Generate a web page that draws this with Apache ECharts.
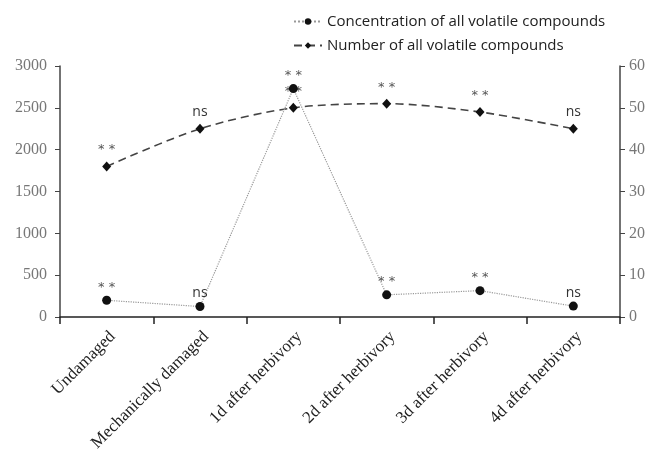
<!DOCTYPE html>
<html>
<head>
<meta charset="utf-8">
<script src="https://cdn.jsdelivr.net/npm/echarts@6/dist/echarts.min.js"></script>
<style>html,body{margin:0;padding:0;background:#fff}#c{width:648px;height:454px}</style>
</head>
<body>
<div id="c"></div>
<script>
const categories = ['Undamaged', 'Mechanically damaged', '1d after herbivory', '2d after herbivory', '3d after herbivory', '4d after herbivory'];
const concentration = [200, 125, 2730, 265, 315, 130];
const numberOfCompounds = [36, 45, 50, 51, 49, 45];
const concentrationSig = ['**', 'ns', '**', '**', '**', 'ns'];
const numberSig = ['**', 'ns', '**', '**', '**', 'ns'];
const leftTicks = [0, 3000, 500];
const rightTicks = [0, 60, 10];

const sigRich = {
  star: { fontFamily: 'DejaVu Sans', fontSize: 13, color: '#555' },
  ns: { fontFamily: 'Open Sans', fontSize: 14, color: '#333' }
};
function sigFormatter(arr) {
  return p => arr[p.dataIndex] === 'ns' ? '{ns|ns}' : '{star|* *}';
}

const chart = echarts.init(document.getElementById('c'));
chart.setOption({
  animation: false,
  grid: { left: 60, right: 27, top: 66, bottom: 137 },
  legend: {
    orient: 'vertical',
    left: 288,
    top: 9,
    itemWidth: 28,
    itemHeight: 8,
    itemGap: 9,
    textStyle: { fontFamily: 'Open Sans', fontSize: 15, color: '#222' },
    data: ['Concentration of all volatile compounds', 'Number of all volatile compounds']
  },
  xAxis: {
    type: 'category',
    data: categories,
    boundaryGap: true,
    axisLine: { lineStyle: { color: '#222', width: 1.5 } },
    axisTick: { show: true, length: 7, alignWithLabel: false, lineStyle: { color: '#222', width: 1.5 } },
    axisLabel: {
      rotate: 45, interval: 0, margin: 11, verticalAlign: 'top',
      fontFamily: 'Liberation Serif', fontSize: 17, color: '#222'
    },
    splitLine: { show: false }
  },
  yAxis: [
    {
      type: 'value', min: leftTicks[0], max: leftTicks[1], interval: leftTicks[2],
      position: 'left',
      axisLine: { show: true, lineStyle: { color: '#444', width: 1.5 } },
      axisTick: { show: true, length: 5, lineStyle: { color: '#444' } },
      axisLabel: { margin: 13, formatter: v => String(v), fontFamily: 'Liberation Serif', fontSize: 16, color: '#777' },
      splitLine: { show: false }
    },
    {
      type: 'value', min: rightTicks[0], max: rightTicks[1], interval: rightTicks[2],
      position: 'right',
      axisLine: { show: true, lineStyle: { color: '#444', width: 1.5 } },
      axisTick: { show: true, length: 5, lineStyle: { color: '#444' } },
      axisLabel: { margin: 9, formatter: v => String(v), fontFamily: 'Liberation Serif', fontSize: 16, color: '#777' },
      splitLine: { show: false }
    }
  ],
  series: [
    {
      name: 'Concentration of all volatile compounds',
      type: 'line',
      yAxisIndex: 0,
      data: concentration,
      symbol: 'circle',
      symbolSize: 9,
      itemStyle: { color: '#111' },
      lineStyle: { color: '#999', width: 1.2, type: 'dotted' },
      label: { show: true, position: 'top', distance: 2, formatter: sigFormatter(concentrationSig), rich: sigRich },
      labelLayout: { hideOverlap: false },
      z: 3
    },
    {
      name: 'Number of all volatile compounds',
      type: 'line',
      yAxisIndex: 1,
      data: numberOfCompounds,
      smooth: 0.3,
      symbol: 'diamond',
      symbolSize: [9, 10],
      itemStyle: { color: '#111' },
      lineStyle: { color: '#444', width: 1.6, type: [8, 5] },
      label: { show: true, position: 'top', distance: 5, formatter: sigFormatter(numberSig), rich: sigRich },
      labelLayout: { hideOverlap: false },
      z: 2
    }
  ]
});
</script>
</body>
</html>
